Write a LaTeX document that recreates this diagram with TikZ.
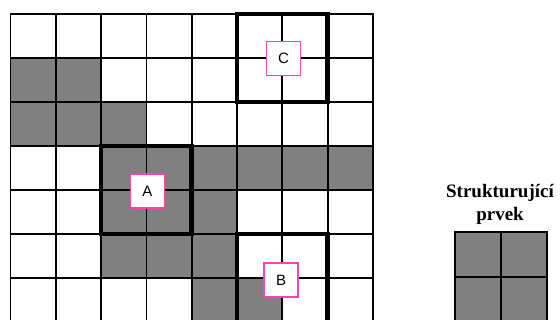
\documentclass[tikz,border=0pt]{standalone}
\usepackage{fontspec}
\setmainfont{Liberation Serif}
\newfontfamily\labelfont{Liberation Sans}
\definecolor{cellgray}{HTML}{808080}
\definecolor{labelpink}{HTML}{FF40B0}
\tikzset{
  gridline/.style={black, line width=1.8pt, line cap=rect},
  thickbox/.style={black, line width=4.5pt, line join=miter},
  lbl/.style={draw=labelpink, line width=1.2pt, fill=white, minimum size=34pt, inner sep=0pt, font=\labelfont\fontsize{15}{18}\selectfont},
  title/.style={align=center, inner sep=0pt, font=\bfseries\fontsize{19}{23}\selectfont}
}
\begin{document}
\begin{tikzpicture}[x=1pt,y=-1pt]
\useasboundingbox (0,0) rectangle (560,320);
\fill[white] (0,0) rectangle (560,320);
% gray cells of the image
\foreach \c/\r in {0/1,1/1,0/2,1/2,2/2,2/3,3/3,4/3,5/3,6/3,7/3,2/4,3/4,4/4,2/5,3/5,4/5,4/6,5/6}
  \fill[cellgray] (10.5+45.3*\c,14+44*\r) rectangle ++(45.3,44);
% grid lines
\foreach \c in {0,...,8}
  \draw[gridline] (10.5+45.3*\c,14) -- (10.5+45.3*\c,330);
\foreach \r in {0,...,7}
  \draw[gridline] (10.5,14+44*\r) -- (372.9,14+44*\r);
% windows
\draw[thickbox] (101.1,146) rectangle (191.7,234);
\draw[thickbox] (237,234) rectangle (327.6,322);
\draw[thickbox] (237,14) rectangle (327.6,102);
% labels
\node[lbl] (A) at (147.5,191) {A};
\node[lbl] (B) at (281,280) {B};
\node[lbl] (C) at (283.5,58.5) {C};
% structuring element
\node[title, anchor=north] (se) at (500,184) {Strukturující\\prvek};
\fill[cellgray] (455,232) rectangle (547,324);
\draw[gridline] (455,232) rectangle (547,324);
\draw[gridline] (501,232) -- (501,324);
\draw[gridline] (455,277) -- (547,277);
\end{tikzpicture}
\end{document}
